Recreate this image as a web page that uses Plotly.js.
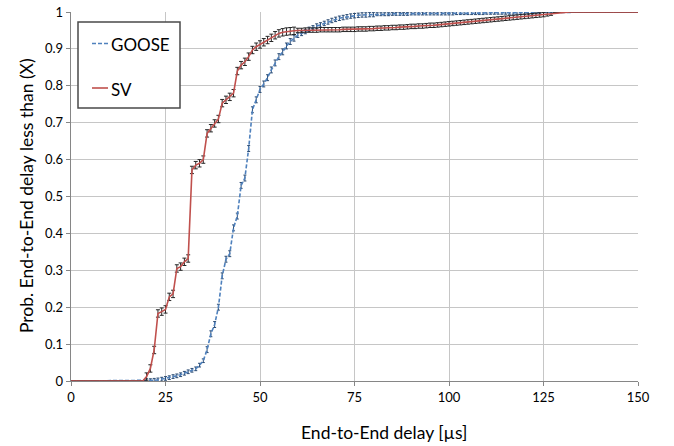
<!DOCTYPE html>
<html>
<head>
<meta charset="utf-8">
<script src="https://cdn.plot.ly/plotly-3.0.1.min.js"></script>
<style>html,body{margin:0;padding:0;background:#fff;}#chart{width:674px;height:446px;}</style>
</head>
<body>
<div id="chart"></div>
<script>
// Delay grid in microseconds (one sample per µs)
const delays = Array.from({length: 151}, (_, i) => i);

// SV CDF values
const svProb = [
  0,0,0,0,0,0,0,0,0,0,
  0,0,0,0,0,0,0,0,0,0,
  0.012,0.034,0.084,0.183,0.188,0.194,0.228,0.236,0.305,0.31,
  0.323,0.332,0.572,0.585,0.59,0.6,0.671,0.685,0.698,0.71,
  0.753,0.762,0.77,0.78,0.84,0.856,0.865,0.879,0.897,0.906,
  0.912,0.918,0.924,0.93,0.937,0.942,0.945,0.947,0.948,0.949,
  0.95,0.95,0.951,0.951,0.951,0.951,0.952,0.952,0.952,0.952,
  0.952,0.952,0.953,0.953,0.953,0.953,0.954,0.954,0.954,0.955,
  0.955,0.956,0.956,0.957,0.957,0.958,0.958,0.959,0.959,0.96,
  0.961,0.961,0.962,0.962,0.963,0.964,0.964,0.965,0.966,0.967,
  0.968,0.969,0.97,0.971,0.972,0.973,0.974,0.975,0.976,0.977,
  0.978,0.979,0.98,0.981,0.982,0.983,0.984,0.985,0.986,0.987,
  0.988,0.989,0.99,0.991,0.992,0.993,0.995,0.997,0.998,0.999,
  1,1,1,1,1,1,1,1,1,1,
  1,1,1,1,1,1,1,1,1,1,
  1
];
const svErr = [
  0,0,0,0,0,0,0,0,0,0,
  0,0,0,0,0,0,0,0,0,0,
  0.01,0.01,0.01,0.01,0.01,0.01,0.01,0.01,0.01,0.01,
  0.01,0.01,0.01,0.01,0.01,0.01,0.01,0.01,0.01,0.01,
  0.01,0.01,0.01,0.01,0.01,0.01,0.01,0.01,0.01,0.01,
  0.01,0.01,0.01,0.01,0.01,0.01,0.01,0.01,0.01,0.01,
  0.006,0.006,0.006,0.006,0.006,0.006,0.006,0.006,0.006,0.006,
  0.006,0.006,0.006,0.006,0.006,0.006,0.006,0.006,0.006,0.006,
  0.006,0.006,0.006,0.006,0.006,0.006,0.006,0.006,0.006,0.006,
  0.006,0.006,0.006,0.006,0.006,0.006,0.006,0.006,0.006,0.006,
  0.006,0.006,0.006,0.006,0.006,0.006,0.006,0.006,0.006,0.006,
  0.006,0.006,0.006,0.006,0.006,0.006,0.006,0.006,0.006,0.006,
  0.006,0.006,0.006,0.006,0.006,0.006,0.006,0.006,0,0,
  0,0,0,0,0,0,0,0,0,0,
  0,0,0,0,0,0,0,0,0,0,
  0
];

// GOOSE CDF values
const gooseProb = [
  0,0,0,0,0,0,0,0,0,0,
  0,0,0,0,0,0,0,0,0,0,
  0.001,0.001,0.002,0.003,0.005,0.007,0.009,0.012,0.014,0.017,
  0.021,0.025,0.029,0.033,0.043,0.055,0.085,0.128,0.153,0.2,
  0.285,0.33,0.345,0.415,0.447,0.53,0.55,0.63,0.735,0.762,
  0.79,0.805,0.822,0.843,0.862,0.879,0.892,0.908,0.92,0.929,
  0.937,0.942,0.947,0.953,0.957,0.962,0.965,0.969,0.973,0.977,
  0.98,0.983,0.985,0.987,0.989,0.99,0.991,0.992,0.992,0.993,
  0.993,0.994,0.994,0.994,0.994,0.995,0.995,0.995,0.995,0.995,
  0.996,0.996,0.996,0.996,0.996,0.996,0.996,0.996,0.996,0.996,
  0.996,0.996,0.997,0.997,0.997,0.997,0.997,0.997,0.997,0.997,
  0.998,0.998,0.998,0.998,0.998,0.998,0.998,0.998,0.998,0.998,
  0.998,0.998,0.998,0.999,0.999,1,1,1,1,1,
  1,1,1,1,1,1,1,1,1,1,
  1,1,1,1,1,1,1,1,1,1,
  1
];
const gooseErr = [
  0,0,0,0,0,0,0,0,0,0,
  0,0,0,0,0,0,0,0,0,0,
  0.005,0.005,0.005,0.005,0.005,0.005,0.005,0.005,0.005,0.005,
  0.005,0.005,0.005,0.005,0.005,0.005,0.008,0.008,0.008,0.008,
  0.008,0.008,0.008,0.008,0.008,0.008,0.008,0.008,0.008,0.008,
  0.008,0.008,0.008,0.008,0.008,0.008,0.008,0.008,0.008,0.008,
  0.006,0.006,0.006,0.006,0.006,0.006,0.006,0.006,0.006,0.006,
  0.006,0.006,0.006,0.006,0.006,0.006,0.006,0.006,0.006,0.006,
  0.006,0.004,0.004,0.004,0.004,0.004,0.004,0.004,0.004,0.004,
  0.004,0.004,0.004,0.004,0.004,0.004,0.004,0.004,0.004,0.004,
  0.004,0.004,0.004,0.004,0.004,0.004,0.004,0.004,0.004,0.004,
  0.004,0.004,0.004,0.004,0.004,0.004,0.004,0.004,0.004,0.004,
  0.004,0.004,0.004,0.004,0.004,0,0,0,0,0,
  0,0,0,0,0,0,0,0,0,0,
  0,0,0,0,0,0,0,0,0,0,
  0
];

const seriesNames = ['GOOSE', 'SV'];
const xTicks = [0, 25, 50, 75, 100, 125, 150];
const yTicks = [0, 0.1, 0.2, 0.3, 0.4, 0.5, 0.6, 0.7, 0.8, 0.9, 1];
const yTickText = ['0', '0.1', '0.2', '0.3', '0.4', '0.5', '0.6', '0.7', '0.8', '0.9', '1'];
const xTitle = 'End-to-End delay [µs]';
const yTitle = 'Prob. End-to-End delay less than (X)';

const FONT = 'Lato, "Open Sans", sans-serif';
const BLUE = '#4f81bd', RED = '#c0504d';

const traces = [
  {
    name: seriesNames[0], x: delays, y: gooseProb, type: 'scatter', mode: 'lines',
    line: {color: BLUE, width: 1.6, dash: '4px,2px'},
    error_y: {type: 'data', array: gooseErr, visible: true, color: '#2c4d75', thickness: 1, width: 1.5},
    cliponaxis: false, showlegend: false
  },
  {
    name: seriesNames[1], x: delays, y: svProb, type: 'scatter', mode: 'lines',
    line: {color: RED, width: 1.6},
    error_y: {type: 'data', array: svErr, visible: true, color: '#262626', thickness: 1, width: 2},
    cliponaxis: false, showlegend: false
  }
];

// plot area: 71..638 px horizontally, 12..381 px vertically
const PW = 567, PH = 369;
const px = v => (v - 71) / PW;        // page x -> paper x
const py = v => (381 - v) / PH;       // page y -> paper y

const legendRowY = [43.5, 88];
const shapes = [
  {type: 'rect', xref: 'paper', yref: 'paper', x0: px(78), x1: px(180), y0: py(108), y1: py(22),
   line: {color: '#4a4a4a', width: 1.5}, fillcolor: '#ffffff', layer: 'above'},
  {type: 'line', xref: 'paper', yref: 'paper', x0: px(92), x1: px(108), y0: py(legendRowY[0]), y1: py(legendRowY[0]),
   line: {color: BLUE, width: 1.6, dash: '4px,2px'}, layer: 'above'},
  {type: 'line', xref: 'paper', yref: 'paper', x0: px(92), x1: px(108), y0: py(legendRowY[1]), y1: py(legendRowY[1]),
   line: {color: RED, width: 1.6}, layer: 'above'}
];

const annotations = [
  {text: seriesNames[0], xref: 'paper', yref: 'paper', x: px(109), y: py(legendRowY[0] + 1), xanchor: 'left', yanchor: 'middle',
   showarrow: false, font: {family: FONT, size: 17, color: '#000'}},
  {text: seriesNames[1], xref: 'paper', yref: 'paper', x: px(109), y: py(legendRowY[1] + 1), xanchor: 'left', yanchor: 'middle',
   showarrow: false, font: {family: FONT, size: 17, color: '#000'}},
  {text: xTitle, xref: 'paper', yref: 'paper', x: px(384), y: py(433), xanchor: 'center', yanchor: 'middle',
   showarrow: false, font: {family: FONT, size: 17.5, color: '#000'}},
  {text: yTitle, xref: 'paper', yref: 'paper', x: px(26), y: py(196), xanchor: 'center', yanchor: 'middle',
   textangle: -90, showarrow: false, font: {family: FONT, size: 17.5, color: '#000'}}
];

const layout = {
  width: 674, height: 446,
  margin: {l: 71, r: 36, t: 12, b: 65},
  paper_bgcolor: '#fff', plot_bgcolor: '#fff',
  font: {family: FONT, color: '#000'},
  showlegend: false,
  shapes: shapes,
  annotations: annotations,
  xaxis: {
    range: [0, 150], tickvals: xTicks, ticktext: xTicks.map(String),
    showgrid: true, gridcolor: '#c6c6c6', gridwidth: 1,
    showline: true, linecolor: '#868686', linewidth: 1.3,
    ticks: 'outside', ticklen: 4, tickcolor: '#868686',
    zeroline: false, tickfont: {family: FONT, size: 13, color: '#000'},
    automargin: false
  },
  yaxis: {
    range: [0, 1], tickvals: yTicks, ticktext: yTickText,
    showgrid: true, gridcolor: '#c6c6c6', gridwidth: 1,
    showline: true, linecolor: '#868686', linewidth: 1.3,
    ticks: 'outside', ticklen: 4, tickcolor: '#868686',
    zeroline: false, tickfont: {family: FONT, size: 13, color: '#000'},
    automargin: false
  }
};

Plotly.newPlot('chart', traces, layout, {displayModeBar: false, staticPlot: true});
</script>
</body>
</html>
